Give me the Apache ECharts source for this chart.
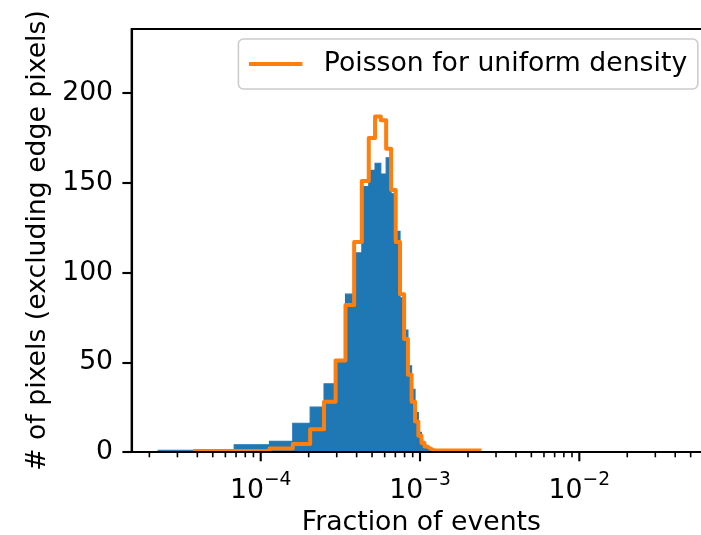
<!DOCTYPE html>
<html>
<head>
<meta charset="utf-8">
<script src="https://cdn.jsdelivr.net/npm/echarts@6/dist/echarts.min.js"></script>
<style>
html,body{margin:0;padding:0;background:#fff;}
#chart{width:701px;height:535px;}
</style>
</head>
<body>
<div id="chart"></div>
<script>
// ---- data ----
// bins are centred on integer event counts k/totalEvents (k = 1, 2, ...)
const totalEvents = 22026;
// histogram counts of pixels for k = 1..26
const pixelCounts = [1, 4, 6, 16, 25, 38, 50, 88, 111, 148, 157, 161, 155, 164, 144, 123, 86, 68, 48, 35, 22, 11, 6, 3, 2, 1];
// Poisson expectation for uniform density, k = 1..53
const poissonCounts = [0.6, 0.6, 2, 4.5, 12.7, 28, 51, 82, 117, 151, 175, 187, 185, 169, 146, 117, 88, 63, 43, 28, 17, 9, 5, 3, 2, 1.2,
  0.9, 0.8, 0.8, 0.8, 0.8, 0.8, 0.8, 0.8, 0.8, 0.8, 0.8, 0.8, 0.8, 0.8, 0.8, 0.8, 0.8, 0.8, 0.8, 0.8, 0.8, 0.8, 0.8, 0.8, 0.8, 0.8, 0.8];
const poissonStart = 3.77e-5;
const xMajorTicks = [1e-4, 1e-3, 1e-2];
const xMinorTicks = [2e-5, 3e-5, 4e-5, 5e-5, 6e-5, 7e-5, 8e-5, 9e-5,
  2e-4, 3e-4, 4e-4, 5e-4, 6e-4, 7e-4, 8e-4, 9e-4,
  2e-3, 3e-3, 4e-3, 5e-3, 6e-3, 7e-3, 8e-3, 9e-3,
  2e-2, 3e-2, 4e-2, 5e-2, 6e-2];
const yTicks = [0, 50, 100, 150, 200];
const xMin = 1.549e-5, xMax = 0.0671, yMax = 235.8;
const seriesName = 'Poisson for uniform density';
const xTitle = 'Fraction of events';
const yTitle = '# of pixels (excluding edge pixels)';

// ---- build ----
const histData = pixelCounts.map((c, i) => {
  const k = i + 1;
  return [(k - 0.5) / totalEvents, (k + 0.5) / totalEvents, c];
});
const lineData = poissonCounts.map((c, i) => {
  const k = i + 1;
  return [i === 0 ? poissonStart : (k - 0.5) / totalEvents, c];
});
lineData.push([(poissonCounts.length + 0.5) / totalEvents, poissonCounts[poissonCounts.length - 1]]);

const FONT = 'DejaVu Sans';
const FS = 26.7;
const SPINE = 2.13;
const BLUE = '#1f77b4';

function tickSeries(values, len, width) {
  return {
    type: 'custom', silent: true, z: 10, clip: false,
    data: values.map(v => [v, 0]),
    encode: {x: 0, y: 1},
    renderItem: function (params, api) {
      const p = api.coord([api.value(0), 0]);
      return {type: 'line', shape: {x1: p[0], y1: p[1], x2: p[0], y2: p[1] + len},
        style: {stroke: '#000', lineWidth: width}};
    }
  };
}

const chart = echarts.init(document.getElementById('chart'), null, {renderer: 'canvas'});
chart.setOption({
  animation: false,
  backgroundColor: '#fff',
  textStyle: {fontFamily: FONT},
  grid: {left: 131.7, top: 29, width: 579.3, height: 423, outerBoundsMode: 'none', containLabel: false,
    show: true, borderColor: '#000', borderWidth: SPINE, backgroundColor: 'transparent'},
  legend: {
    data: [{name: seriesName, icon: 'rect'}], right: 3.2, top: 39,
    padding: [10, 10.6, 10, 10.6],
    itemWidth: 53.4, itemHeight: 4,
    backgroundColor: 'rgba(255,255,255,0.8)', borderColor: '#cccccc', borderWidth: 1.6, borderRadius: 5,
    textStyle: {fontFamily: FONT, fontSize: FS, color: '#000', lineHeight: 30, padding: [0, 0, 0, 16.4]}
  },
  xAxis: {
    type: 'log', logBase: 10, min: xMin, max: xMax, z: 5,
    name: xTitle, nameLocation: 'middle', nameGap: 55,
    nameTextStyle: {fontFamily: FONT, fontSize: FS, color: '#000'},
    axisLine: {show: true, lineStyle: {color: '#000', width: SPINE}},
    axisTick: {show: false},
    splitLine: {show: false},
    minorTick: {show: false},
    axisLabel: {
      margin: 18.6, color: '#000', fontFamily: FONT,
      formatter: function (v) {
        const e = Math.log10(v);
        const r = Math.round(e);
        if (Math.abs(e - r) > 1e-6) return '';
        return '{b|10}{s|' + (r < 0 ? '\u2212' + (-r) : r) + '}';
      },
      rich: {
        b: {fontSize: FS, fontFamily: FONT, color: '#000', lineHeight: 34, verticalAlign: 'bottom'},
        s: {fontSize: 18.7, fontFamily: FONT, color: '#000', lineHeight: 20, verticalAlign: 'top'}
      }
    }
  },
  yAxis: {
    type: 'value', min: 0, max: yMax, interval: 50, z: 5,
    name: yTitle, nameLocation: 'middle', nameGap: 80,
    nameTextStyle: {fontFamily: FONT, fontSize: FS, color: '#000'},
    axisLine: {show: true, lineStyle: {color: '#000', width: SPINE}},
    axisTick: {show: true, length: 9.3, lineStyle: {color: '#000', width: SPINE}, customValues: yTicks},
    axisLabel: {margin: 18.6, color: '#000', fontFamily: FONT, fontSize: FS, customValues: yTicks},
    splitLine: {show: false}
  },
  series: [
    {
      type: 'custom', name: 'histogram', z: 1, silent: true,
      data: histData,
      encode: {x: [0, 1], y: 2},
      renderItem: function (params, api) {
        const p1 = api.coord([api.value(0), api.value(2)]);
        const p2 = api.coord([api.value(1), 0]);
        return {type: 'rect', shape: {x: p1[0], y: p1[1], width: p2[0] - p1[0], height: p2[1] - p1[1]},
          style: {fill: BLUE, stroke: BLUE, lineWidth: 1.1}};
      }
    },
    {
      type: 'line', name: seriesName, step: 'end', z: 2,
      data: lineData, symbol: 'none', showSymbol: false,
      lineStyle: {color: '#ff7f0e', width: 4, join: 'round'},
      itemStyle: {color: '#ff7f0e'}
    },
    tickSeries(xMajorTicks, 9.3, SPINE),
    tickSeries(xMinorTicks, 5.3, 1.6)
  ]
});
</script>
</body>
</html>
